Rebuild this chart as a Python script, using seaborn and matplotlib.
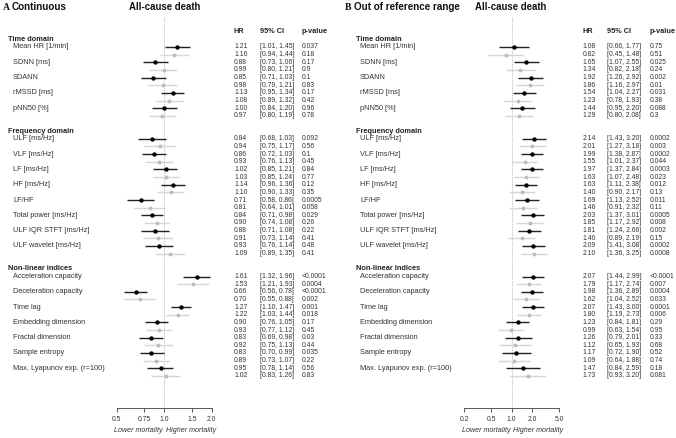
import matplotlib
matplotlib.use("Agg")
import matplotlib.pyplot as plt
import matplotlib.transforms as mtrans
import numpy as np
import pandas as pd
import seaborn as sns

# sezioni e variabili (stesse per i due pannelli)
sezioni = ["Time domain", "Frequency domain", "Non-linear indices"]
var_time = ["Mean HR [1/min]", "SDNN [ms]", "SDANN", "rMSSD [ms]", "pNN50 [%]"]
var_freq = ["ULF [ms/Hz]", "VLF [ms/Hz]", "LF [ms/Hz]", "HF [ms/Hz]", "LF/HF",
            "Total power [ms/Hz]", "ULF IQR STFT [ms/Hz]", "ULF wavelet [ms/Hz]"]
var_nonlin = ["Acceleration capacity", "Deceleration capacity", "Time lag",
              "Embedding dimension", "Fractal dimension", "Sample entropy",
              "Max. Lyapunov exp. (r=100)"]

# pannello A (continuous): per ogni variabile coppia nero, grigio
hr_a = [1.21, 1.16, 0.88, 0.99, 0.85, 0.98, 1.13, 1.08, 1.00, 0.97,
        0.84, 0.94, 0.86, 0.93, 1.02, 1.03, 1.14, 1.10, 0.71, 0.81,
        0.84, 0.90, 0.88, 0.91, 0.93, 1.09,
        1.61, 1.53, 0.66, 0.70, 1.27, 1.22, 0.90, 0.93, 0.83, 0.92,
        0.83, 0.89, 0.95, 1.02]
lo_a = [1.01, 0.94, 0.73, 0.80, 0.71, 0.79, 0.95, 0.89, 0.84, 0.80,
        0.68, 0.75, 0.72, 0.76, 0.85, 0.85, 0.96, 0.90, 0.58, 0.64,
        0.71, 0.74, 0.71, 0.73, 0.76, 0.89,
        1.32, 1.21, 0.56, 0.55, 1.10, 1.03, 0.76, 0.77, 0.69, 0.75,
        0.70, 0.73, 0.78, 0.83]
hi_a = [1.45, 1.44, 1.06, 1.21, 1.03, 1.21, 1.34, 1.32, 1.20, 1.19,
        1.03, 1.17, 1.03, 1.13, 1.21, 1.24, 1.36, 1.33, 0.86, 1.01,
        0.98, 1.08, 1.08, 1.14, 1.14, 1.35,
        1.96, 1.93, 0.78, 0.88, 1.47, 1.44, 1.05, 1.12, 0.98, 1.13,
        0.99, 1.07, 1.14, 1.26]
p_a = ["0.037", "0.18", "0.17", "0.9", "0.1", "0.83", "0.17", "0.42", "0.96", "0.78",
       "0.092", "0.56", "0.1", "0.45", "0.84", "0.77", "0.12", "0.35", "0.0005", "0.058",
       "0.029", "0.26", "0.22", "0.41", "0.48", "0.41",
       "<0.0001", "0.0004", "<0.0001", "0.002", "0.001", "0.018", "0.17", "0.45", "0.03", "0.44",
       "0.035", "0.22", "0.56", "0.83"]

# pannello B (out of reference range)
hr_b = [1.08, 0.82, 1.65, 1.34, 1.92, 1.86, 1.54, 1.23, 1.44, 1.29,
        2.14, 2.01, 1.99, 1.55, 1.97, 1.63, 1.63, 1.40, 1.69, 1.46,
        2.03, 1.85, 1.81, 1.40, 2.09, 2.10,
        2.07, 1.79, 1.98, 1.62, 2.07, 1.80, 1.23, 0.99, 1.26, 1.12,
        1.17, 1.09, 1.47, 1.73]
lo_b = [0.66, 0.45, 1.07, 0.82, 1.26, 1.16, 1.04, 0.78, 0.95, 0.80,
        1.43, 1.27, 1.38, 1.01, 1.37, 1.07, 1.11, 0.90, 1.13, 0.91,
        1.37, 1.17, 1.24, 0.89, 1.41, 1.36,
        1.44, 1.17, 1.36, 1.04, 1.43, 1.19, 0.84, 0.63, 0.79, 0.65,
        0.72, 0.64, 0.84, 0.93]
hi_b = [1.77, 1.48, 2.55, 2.18, 2.92, 2.97, 2.27, 1.93, 2.20, 2.08,
        3.20, 3.18, 2.87, 2.37, 2.84, 2.48, 2.38, 2.17, 2.52, 2.32,
        3.01, 2.92, 2.66, 2.19, 3.08, 3.25,
        2.99, 2.74, 2.89, 2.52, 3.00, 2.73, 1.81, 1.54, 2.01, 1.93,
        1.90, 1.88, 2.59, 3.20]
p_b = ["0.75", "0.51", "0.025", "0.24", "0.002", "0.01", "0.031", "0.38", "0.088", "0.3",
       "0.0002", "0.003", "0.0002", "0.044", "0.0003", "0.023", "0.012", "0.13", "0.011", "0.11",
       "0.0005", "0.008", "0.002", "0.15", "0.0002", "0.0008",
       "<0.0001", "0.007", "0.0004", "0.033", "0.0001", "0.006", "0.29", "0.95", "0.33", "0.68",
       "0.52", "0.74", "0.18", "0.081"]

ticks_a = [0.5, 0.75, 1.0, 1.5, 2.0]
ticks_b = [0.2, 0.5, 1.0, 2.0, 5.0]

W, H = 676, 438
sns.set_theme(style="white")
plt.rcParams["font.family"] = ["Liberation Sans", "DejaVu Sans"]

# posizione delle righe (slot): header colonne = 0, poi sezioni
slot_header = {}
slot_label = {}
righe = []
s = 1
for sez, variabili in zip(sezioni, [var_time, var_freq, var_nonlin]):
    slot_header[sez] = s
    s += 1
    for v in variabili:
        slot_label[v] = s
        righe.append((s, "nero"))
        righe.append((s + 1, "grigio"))
        s += 2
    s += 1

fig = plt.figure(figsize=(W / 100, H / 100), dpi=100)

pannelli = [
    dict(lettera="A", titolo="Continuous", x_lett=2.5, x_tit=11.5, x_acd=129,
         ax_px=(116.7, 211.7), lim=(0.5, 2.0), ticks=ticks_a,
         tlab=["0.5", "0.75", "1.0", "1.5", "2.0"],
         x_sez=8, x_var=13, x_hr=234, x_ci=260, x_p=301.5,
         hr=hr_a, lo=lo_a, hi=hi_a, p=p_a),
    dict(lettera="B", titolo="Out of reference range", x_lett=345, x_tit=354, x_acd=475,
         ax_px=(464, 559.3), lim=(0.2, 5.0), ticks=ticks_b,
         tlab=["0.2", "0.5", "1.0", "2.0", "5.0"],
         x_sez=356, x_var=360, x_hr=582.3, x_ci=606.7, x_p=649.7,
         hr=hr_b, lo=lo_b, hi=hi_b, p=p_b),
]

y_top, y_axis = 17, 408
ymin_slot = (y_top - 31.7) / 7.65
ymax_slot = (y_axis - 31.7) / 7.65

col_testo = "#333333"
fs_lab = 5.3
fs_num = 4.9

for pan in pannelli:
    x0, x1 = pan["ax_px"]
    ax = fig.add_axes([x0 / W, 1 - y_axis / H, (x1 - x0) / W, (y_axis - y_top) / H])

    df = pd.DataFrame({
        "slot": [r[0] for r in righe],
        "tipo": [r[1] for r in righe],
        "hr": pan["hr"], "lo": pan["lo"], "hi": pan["hi"], "p": pan["p"],
    })
    nero = df[df["tipo"] == "nero"]
    grigio = df[df["tipo"] == "grigio"]

    ax.axvline(1.0, color="#8a8a8a", linestyle=(0, (1, 1.5)), lw=0.5, zorder=1)
    ax.hlines(grigio["slot"], grigio["lo"], grigio["hi"], color="#d6d6d6", lw=1.0, zorder=2)
    ax.hlines(nero["slot"], nero["lo"], nero["hi"], color="#222222", lw=1.0, zorder=3)
    sns.scatterplot(x=grigio["hr"], y=grigio["slot"], ax=ax, color="#bdbdbd",
                    s=8, linewidth=0, zorder=4)
    sns.scatterplot(x=nero["hr"], y=nero["slot"], ax=ax, color="black",
                    s=10, linewidth=0, zorder=5)

    ax.set_xscale("log")
    ax.set_xlim(*pan["lim"])
    ax.set_ylim(ymax_slot, ymin_slot)
    ax.set_xticks(pan["ticks"])
    ax.set_xticklabels(pan["tlab"])
    ax.minorticks_off()
    ax.set_yticks([])
    ax.set_xlabel("")
    ax.set_ylabel("")
    ax.patch.set_alpha(0)
    for lato in ["top", "right", "left"]:
        ax.spines[lato].set_visible(False)
    ax.spines["bottom"].set_color("#555555")
    ax.spines["bottom"].set_linewidth(0.7)
    ax.tick_params(axis="x", bottom=True, direction="out", length=3, width=0.7,
                   color="#555555", pad=2.5, labelsize=4.9, labelcolor=col_testo)

    tr = mtrans.blended_transform_factory(fig.transFigure, ax.transData)

    # header colonne
    for xx, t in [(pan["x_hr"], "HR"), (pan["x_ci"], "95% CI"), (pan["x_p"], "p-value")]:
        ax.text(xx / W, 0, t, transform=tr, fontsize=fs_lab, fontweight="bold",
                color="#222222", va="center", ha="left", clip_on=False)
    # sezioni
    for sez, k in slot_header.items():
        ax.text(pan["x_sez"] / W, k, sez, transform=tr, fontsize=fs_lab, fontweight="bold",
                color="#222222", va="center", ha="left", clip_on=False)
    # nomi variabili
    for v, k in slot_label.items():
        ax.text(pan["x_var"] / W, k, v, transform=tr, fontsize=fs_lab,
                color=col_testo, va="center", ha="left", clip_on=False)
    # valori HR, CI, p
    for _, r in df.iterrows():
        ax.text(pan["x_hr"] / W, r["slot"], f"{r['hr']:.2f}", transform=tr, fontsize=fs_num,
                color=col_testo, va="center", ha="left", clip_on=False)
        ax.text(pan["x_ci"] / W, r["slot"], f"[{r['lo']:.2f}, {r['hi']:.2f}]", transform=tr,
                fontsize=fs_num, color=col_testo, va="center", ha="left", clip_on=False)
        ax.text(pan["x_p"] / W, r["slot"], r["p"], transform=tr, fontsize=fs_num,
                color=col_testo, va="center", ha="left", clip_on=False)

    # titoli
    fig.text(pan["x_lett"] / W, 1 - 7 / H, pan["lettera"], fontsize=7.0, fontweight="bold",
             family=["Liberation Serif", "DejaVu Serif"], va="center", ha="left", color="#111111")
    fig.text(pan["x_tit"] / W, 1 - 7 / H, pan["titolo"], fontsize=7.1, fontweight="bold",
             va="center", ha="left", color="#111111")
    fig.text(pan["x_acd"] / W, 1 - 7 / H, "All-cause death", fontsize=6.9, fontweight="bold",
             va="center", ha="left", color="#111111")

    # etichette sotto l'asse
    x_uno = x0 + (x1 - x0) * np.log(1.0 / pan["lim"][0]) / np.log(pan["lim"][1] / pan["lim"][0])
    fig.text((x_uno - 1.5) / W, 1 - 430 / H, "Lower mortality", fontsize=5.1, style="italic",
             color=col_testo, va="center", ha="right")
    fig.text((x_uno + 1.5) / W, 1 - 430 / H, "Higher mortality", fontsize=5.1, style="italic",
             color=col_testo, va="center", ha="left")

fig.savefig("out.png", dpi=100)
